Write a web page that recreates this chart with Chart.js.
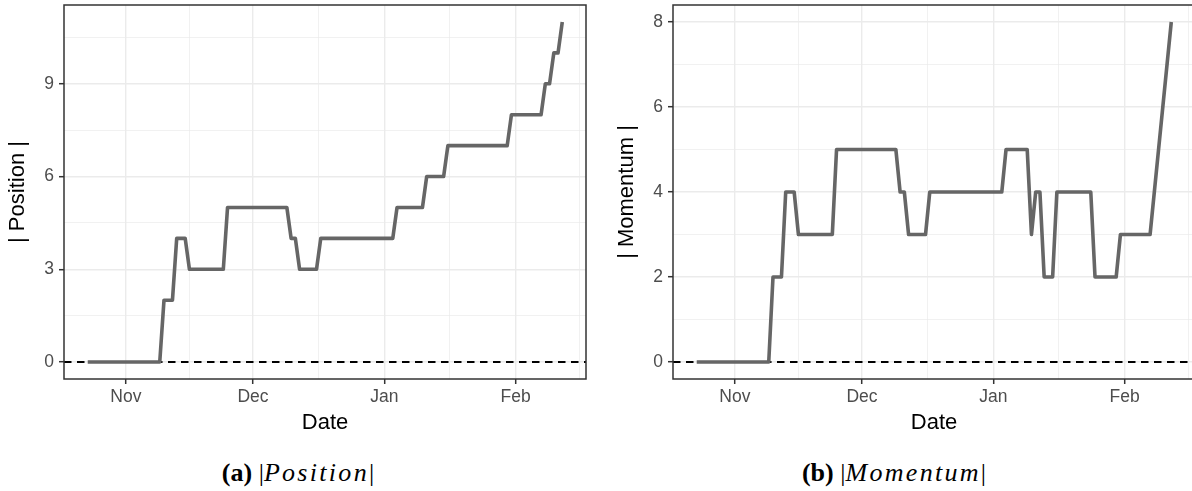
<!DOCTYPE html>
<html>
<head>
<meta charset="utf-8">
<script src="https://cdn.jsdelivr.net/npm/chart.js@4"></script>
<style>
  html, body { margin: 0; padding: 0; background: #fff; }
  body { width: 1192px; height: 491px; overflow: hidden; position: relative; }
  canvas { position: absolute; top: 0; }
  .cap {
    position: absolute; top: 458px; width: 596px; height: 30px; line-height: 30px;
    text-align: center; font-family: "Liberation Serif", "Times New Roman", serif;
    font-size: 26px; color: #000; white-space: nowrap;
  }
  .cap i { letter-spacing: 2.3px; }
</style>
</head>
<body>
<canvas id="positionChart" width="596" height="440" style="left:0"></canvas>
<canvas id="momentumChart" width="596" height="440" style="left:609px"></canvas>
<div class="cap" style="left:0"><b>(a)</b> |<i>Position</i>|</div>
<div class="cap" style="left:596px"><b>(b)</b> |<i>Momentum</i>|</div>
<script>
// x values are days counted from Nov 1
var monthTicks = [0, 30, 61, 92];
var monthLabels = ['Nov', 'Dec', 'Jan', 'Feb'];
var monthMinor = [15, 45.5, 76.5, 107];

var positionDays = [-9, 8, 9, 11, 12, 14, 15, 23, 24, 38, 39, 40, 41, 45, 46, 63, 64, 70, 71, 75, 76, 90, 91, 98, 99, 100, 101, 102, 103];
var positionValues = [0, 0, 2, 2, 4, 4, 3, 3, 5, 5, 4, 4, 3, 3, 4, 4, 5, 5, 6, 6, 7, 7, 8, 8, 9, 9, 10, 10, 11];
var positionTicks = [0, 3, 6, 9];
var positionMinor = [1.5, 4.5, 7.5, 10.5];

var momentumDays = [-9, 8, 9, 11, 12, 14, 15, 23, 24, 38, 39, 40, 41, 45, 46, 63, 64, 69, 70, 71, 72, 73, 75, 76, 84, 85, 90, 91, 98, 103];
var momentumValues = [0, 0, 2, 2, 4, 4, 3, 3, 5, 5, 4, 4, 3, 3, 4, 4, 5, 5, 3, 4, 4, 2, 2, 4, 4, 2, 2, 3, 3, 8];
var momentumTicks = [0, 2, 4, 6, 8];
var momentumMinor = [1, 3, 5, 7];

var tickFont = { family: 'Liberation Sans, Arial, sans-serif', size: 17.5 };
var titleFont = { family: 'Liberation Sans, Arial, sans-serif', size: 22 };

// dashed zero line under the data, full panel border on top
var panelFrame = {
  id: 'panelFrame',
  beforeDatasetsDraw: function (chart) {
    var ctx = chart.ctx, a = chart.chartArea;
    var y0 = chart.scales.y.getPixelForValue(0);
    ctx.save();
    ctx.strokeStyle = '#000000';
    ctx.lineWidth = 1.9;
    ctx.setLineDash([7.5, 5.5]);
    ctx.beginPath();
    ctx.moveTo(a.left, y0);
    ctx.lineTo(a.right, y0);
    ctx.stroke();
    ctx.restore();
  },
  afterDatasetsDraw: function (chart) {
    var ctx = chart.ctx, a = chart.chartArea;
    ctx.save();
    ctx.strokeStyle = '#333333';
    ctx.lineWidth = 1.5;
    ctx.strokeRect(a.left, a.top, a.right - a.left, a.bottom - a.top);
    ctx.restore();
  }
};

function makeChart(el, days, values, yTitle, yMin, yMax, yMajor, yMinor) {
  var points = days.map(function (d, i) { return { x: d, y: values[i] }; });
  return new Chart(document.getElementById(el), {
    type: 'line',
    data: {
      datasets: [{
        data: points,
        borderColor: '#666666',
        borderWidth: 3.6,
        borderJoinStyle: 'round',
        pointRadius: 0,
        tension: 0,
        fill: false
      }]
    },
    options: {
      responsive: false,
      animation: false,
      devicePixelRatio: 1,
      layout: { padding: { top: 5, right: 10, left: 0, bottom: 0 } },
      plugins: { legend: { display: false }, tooltip: { enabled: false } },
      scales: {
        x: {
          type: 'linear',
          min: -14.6,
          max: 108.6,
          afterBuildTicks: function (s) {
            s.ticks = monthTicks.concat(monthMinor).sort(function (a, b) { return a - b; })
              .map(function (v) { return { value: v }; });
          },
          afterFit: function (s) { s.height = 61; s.paddingLeft = 0; s.paddingRight = 0; },
          ticks: {
            autoSkip: false, maxRotation: 0, padding: 3, color: '#4D4D4D', font: tickFont,
            callback: function (v) {
              var i = monthTicks.indexOf(v);
              return i >= 0 ? monthLabels[i] : '';
            }
          },
          grid: {
            color: '#EBEBEB',
            lineWidth: function (c) { return monthTicks.indexOf(c.tick.value) >= 0 ? 1.4 : 0.7; },
            tickLength: 5,
            tickWidth: 1.5,
            tickColor: function (c) { return monthTicks.indexOf(c.tick.value) >= 0 ? '#333333' : 'rgba(0,0,0,0)'; }
          },
          border: { display: false },
          title: { display: true, text: 'Date', color: '#000000', font: titleFont, padding: { top: 0, bottom: 4 } }
        },
        y: {
          min: yMin,
          max: yMax,
          afterBuildTicks: function (s) {
            s.ticks = yMajor.concat(yMinor).sort(function (a, b) { return a - b; })
              .map(function (v) { return { value: v }; });
          },
          afterFit: function (s) { s.width = 64; s.paddingTop = 0; s.paddingBottom = 0; },
          ticks: {
            padding: 5, color: '#4D4D4D', font: tickFont,
            callback: function (v) { return yMajor.indexOf(v) >= 0 ? String(v) : ''; }
          },
          grid: {
            color: '#EBEBEB',
            lineWidth: function (c) { return yMajor.indexOf(c.tick.value) >= 0 ? 1.4 : 0.7; },
            tickLength: 5,
            tickWidth: 1.5,
            tickColor: function (c) { return yMajor.indexOf(c.tick.value) >= 0 ? '#333333' : 'rgba(0,0,0,0)'; }
          },
          border: { display: false },
          title: { display: true, text: yTitle, color: '#000000', font: titleFont, padding: { top: 5, bottom: 0 } }
        }
      }
    },
    plugins: [panelFrame]
  });
}

makeChart('positionChart', positionDays, positionValues, '| Position |', -0.55, 11.55, positionTicks, positionMinor);
makeChart('momentumChart', momentumDays, momentumValues, '| Momentum |', -0.4, 8.4, momentumTicks, momentumMinor);
</script>
</body>
</html>
